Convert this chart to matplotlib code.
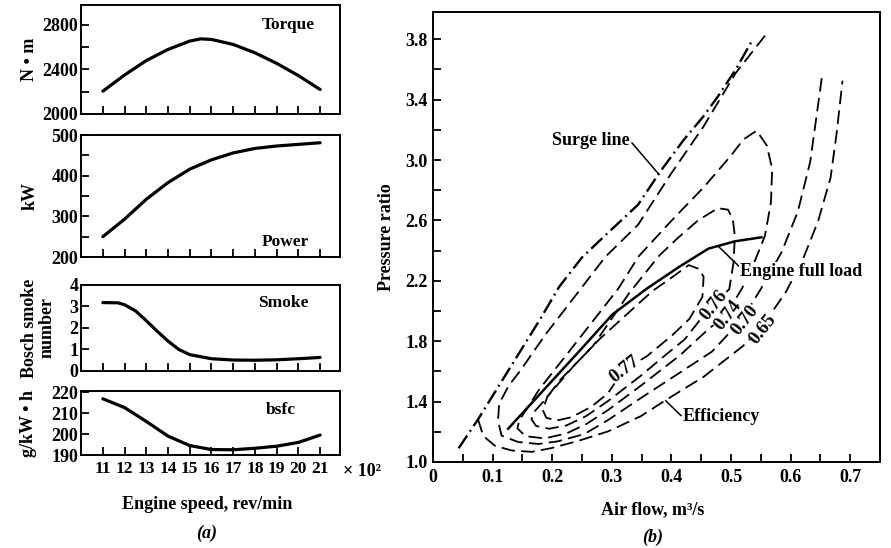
import matplotlib
matplotlib.use("Agg")
import matplotlib.pyplot as plt
from matplotlib.ticker import FixedLocator, MultipleLocator, FuncFormatter

plt.rcParams['font.family'] = ['Liberation Serif', 'DejaVu Serif']
plt.rcParams['font.weight'] = 'bold'

FS = 13

# ---------------- (a) engine performance data ----------------
speed_ticks = [11, 12, 13, 14, 15, 16, 17, 18, 19, 20, 21]

torque_speed = [11, 12, 13, 14, 15, 15.5, 16, 17, 18, 19, 20, 21]
torque_nm = [2205, 2350, 2480, 2580, 2655, 2675, 2670, 2625, 2550, 2455, 2345, 2220]

power_speed = [11, 12, 13, 14, 15, 16, 17, 18, 19, 20, 21]
power_kw = [250, 293, 342, 383, 416, 439, 456, 467, 473, 477, 481]

smoke_speed = [11, 11.7, 12, 12.5, 13, 13.5, 14, 14.5, 15, 16, 17, 18, 19, 20, 21]
smoke_bosch = [3.18, 3.17, 3.08, 2.8, 2.34, 1.85, 1.39, 1.0, 0.76, 0.57, 0.51, 0.5, 0.52, 0.57, 0.63]

bsfc_speed = [11, 12, 13, 14, 15, 16, 17, 18, 19, 20, 21]
bsfc_g = [216.8, 212.6, 206.0, 199.0, 194.5, 192.6, 192.5, 193.2, 194.2, 196.0, 199.5]

# ---------------- (b) compressor map data ----------------
surge_flow = [0.043, 0.0755, 0.179, 0.212, 0.250, 0.289, 0.344, 0.382, 0.420, 0.453, 0.478, 0.508, 0.535]
surge_pr = [1.091, 1.282, 1.941, 2.162, 2.355, 2.501, 2.704, 2.928, 3.130, 3.286, 3.421, 3.600, 3.789]

full_load_flow = [0.126, 0.189, 0.247, 0.301, 0.358, 0.412, 0.462, 0.507, 0.551]
full_load_pr = [1.220, 1.491, 1.741, 1.977, 2.146, 2.290, 2.413, 2.462, 2.488]

eff065_flow = [0.0755, 0.0843, 0.104, 0.132, 0.166, 0.199, 0.244, 0.294, 0.349, 0.393, 0.454,
               0.520, 0.551, 0.592, 0.619, 0.646, 0.667, 0.677, 0.687]
eff065_pr = [1.282, 1.172, 1.107, 1.076, 1.067, 1.092, 1.140, 1.203, 1.304, 1.416, 1.564,
             1.768, 1.891, 2.126, 2.327, 2.594, 2.883, 3.171, 3.525]

eff070_flow = [0.557, 0.508, 0.4535, 0.399, 0.344, 0.289, 0.191, 0.168, 0.147, 0.127, 0.111,
               0.109, 0.115, 0.143, 0.177, 0.210, 0.254, 0.293, 0.349, 0.415, 0.468, 0.519,
               0.550, 0.585, 0.612, 0.633, 0.643, 0.653]
eff070_pr = [3.824, 3.577, 3.220, 2.907, 2.571, 2.358, 1.856, 1.728, 1.607, 1.506, 1.386,
             1.273, 1.174, 1.132, 1.119, 1.137, 1.185, 1.276, 1.424, 1.594, 1.731, 1.947,
             2.146, 2.391, 2.658, 2.991, 3.279, 3.566]

eff074_flow = [0.492, 0.519, 0.538, 0.557, 0.567, 0.569, 0.560, 0.543, 0.521, 0.499, 0.455,
               0.400, 0.345, 0.311, 0.2355, 0.207, 0.1775, 0.158, 0.1447, 0.1416, 0.155,
               0.187, 0.224, 0.257, 0.293, 0.348, 0.4145, 0.461, 0.492]
eff074_pr = [1.976, 2.154, 2.312, 2.499, 2.721, 2.942, 3.096, 3.194, 3.137, 3.025, 2.823,
             2.598, 2.362, 2.149, 1.768, 1.625, 1.477, 1.356, 1.276, 1.2225, 1.171,
             1.156, 1.189, 1.251, 1.342, 1.503, 1.707, 1.876, 1.976]

eff076_flow = [0.467, 0.497, 0.504, 0.5065, 0.503, 0.495, 0.478, 0.445, 0.412, 0.379, 0.329,
               0.2685, 0.214, 0.188, 0.171, 0.165, 0.173, 0.195, 0.224, 0.257, 0.293,
               0.348, 0.389, 0.4225, 0.444, 0.467]
eff076_pr = [2.040, 2.144, 2.316, 2.495, 2.606, 2.671, 2.681, 2.601, 2.488, 2.365, 2.118,
             1.769, 1.546, 1.412, 1.338, 1.284, 1.238, 1.220, 1.242, 1.304, 1.402,
             1.569, 1.705, 1.813, 1.921, 2.040]

eff077_flow = [0.320, 0.359, 0.401, 0.430, 0.452, 0.454, 0.446, 0.429, 0.401, 0.368, 0.324,
               0.280, 0.236, 0.192, 0.184, 0.190, 0.207, 0.232, 0.265, 0.293, 0.320]
eff077_pr = [1.609, 1.701, 1.838, 1.947, 2.094, 2.227, 2.279, 2.304, 2.223, 2.132, 1.974,
             1.816, 1.636, 1.434, 1.345, 1.293, 1.274, 1.296, 1.364, 1.453, 1.609]

eff_labels = ['0.77', '0.76', '0.74', '0.70', '0.65']
eff_label_flow = [0.322, 0.471, 0.495, 0.523, 0.554]
eff_label_pr = [1.612, 2.040, 1.970, 1.938, 1.882]
eff_label_rot = [38, 52, 52, 52, 52]

# leader lines (start, end) and callout texts
surge_leader_flow = [0.334, 0.379]
surge_leader_pr = [3.112, 2.905]
load_leader_flow = [0.479, 0.516]
load_leader_pr = [2.427, 2.286]
eff_leader_flow = [0.3905, 0.416]
eff_leader_pr = [1.405, 1.3075]

flow_ticks = [0, 0.1, 0.2, 0.3, 0.4, 0.5, 0.6, 0.7]
pr_ticks = [1.0, 1.4, 1.8, 2.2, 2.6, 3.0, 3.4, 3.8]

# ---------------- figure ----------------
fig = plt.figure(figsize=(8.91, 5.48), dpi=100)
LW_SP = 1.4


def style(ax):
    for s in ax.spines.values():
        s.set_linewidth(LW_SP)
    ax.tick_params(which='both', direction='in', width=1.3, length=6,
                   top=False, right=False, labelsize=FS)


L, W = 0.091, 0.2907
ax_t = fig.add_axes([L, 0.792, W, 0.199])
ax_p = fig.add_axes([L, 0.531, W, 0.2226])
ax_s = fig.add_axes([L, 0.323, W, 0.157])
ax_b = fig.add_axes([L, 0.1697, W, 0.1168])

panels = [
    (ax_t, torque_speed, torque_nm, (2000, 2980), [2000, 2400, 2800], [2200, 2600], 'N • m', -0.165, 'Torque', 0.80, 0.82),
    (ax_p, power_speed, power_kw, (200, 500), [200, 300, 400, 500], [250, 350, 450], 'kW', -0.165, 'Power', 0.79, 0.12),
    (ax_s, smoke_speed, smoke_bosch, (0, 4), [0, 1, 2, 3, 4], [], 'Bosch smoke\nnumber', -0.10, 'Smoke', 0.78, 0.79),
    (ax_b, bsfc_speed, bsfc_g, (190, 220.5), [190, 200, 210, 220], [], 'g/kW • h', -0.170, 'bsfc', 0.77, 0.70),
]
for ax, xs, ys, yl, yt, ym, ylab, ylx, name, tx, ty in panels:
    style(ax)
    ax.plot(xs, ys, color='black', lw=2.3, solid_capstyle='round')
    ax.set_xlim(10.0, 21.92)
    ax.set_ylim(*yl)
    ax.xaxis.set_major_locator(FixedLocator(speed_ticks))
    ax.yaxis.set_major_locator(FixedLocator(yt))
    ax.yaxis.set_minor_locator(FixedLocator(ym))
    ax.tick_params(axis='y', pad=2)
    ax.tick_params(axis='x', pad=4)
    ax.set_ylabel(ylab, fontsize=FS, fontweight='bold', linespacing=1.0)
    ax.yaxis.set_label_coords(ylx, 0.5)
    ax.text(tx, ty, name, transform=ax.transAxes, ha='center', va='center',
            fontsize=12.5, fontweight='bold')
    if ax is not ax_b:
        ax.tick_params(axis='x', labelbottom=False)

ax_b.tick_params(axis='x', labelsize=12.5)
ax_b.text(1.01, -0.25, '× 10²', transform=ax_b.transAxes, ha='left', va='center',
          fontsize=FS, fontweight='bold')
fig.text(0.232, 0.0785, 'Engine speed, rev/min', ha='center', va='center', fontsize=FS, fontweight='bold')
fig.text(0.232, 0.027, '(a)', ha='center', va='center', fontsize=FS, fontstyle='italic', fontweight='bold')

# ---------------- (b) ----------------
ax = fig.add_axes([0.486, 0.157, 0.5017, 0.821])
style(ax)
ax.set_xlim(0, 0.75)
ax.set_ylim(1.0, 3.98)
ax.xaxis.set_major_locator(FixedLocator(flow_ticks))
ax.xaxis.set_minor_locator(MultipleLocator(0.05))
ax.yaxis.set_major_locator(FixedLocator(pr_ticks))
ax.yaxis.set_minor_locator(MultipleLocator(0.2))
ax.xaxis.set_major_formatter(FuncFormatter(lambda v, p: '0' if abs(v) < 1e-9 else f'{v:.1f}'))
ax.yaxis.set_major_formatter(FuncFormatter(lambda v, p: f'{v:.1f}'))
ax.tick_params(axis='x', pad=5)
ax.tick_params(axis='y', pad=4)
ax.set_ylabel('Pressure ratio', fontsize=FS, fontweight='bold')
ax.yaxis.set_label_coords(-0.085, 0.5)

dash_kw = dict(color='black', lw=1.3, dashes=(7.5, 3.5))
for fx, py in [(eff065_flow, eff065_pr), (eff070_flow, eff070_pr), (eff074_flow, eff074_pr),
               (eff076_flow, eff076_pr), (eff077_flow, eff077_pr)]:
    ax.plot(fx, py, **dash_kw)

ax.plot(surge_flow, surge_pr, color='black', lw=1.7, dashes=(6.5, 2, 0.8, 2))
ax.plot(full_load_flow, full_load_pr, color='black', lw=1.8)

for lab, fx, py, rot in zip(eff_labels, eff_label_flow, eff_label_pr, eff_label_rot):
    ax.text(fx, py, lab, rotation=rot, ha='center', va='center', fontsize=13.5, fontweight='bold',
            rotation_mode='anchor',
            bbox=dict(facecolor='white', edgecolor='none', pad=0.1))

ax.plot(surge_leader_flow, surge_leader_pr, color='black', lw=1.1)
ax.plot(load_leader_flow, load_leader_pr, color='black', lw=1.1)
ax.plot(eff_leader_flow, eff_leader_pr, color='black', lw=1.1)
ax.text(0.330, 3.128, 'Surge line', ha='right', va='center', fontsize=FS, fontweight='bold')
ax.text(0.515, 2.262, 'Engine full load', ha='left', va='center', fontsize=FS, fontweight='bold',
        bbox=dict(facecolor='white', edgecolor='none', pad=0.5))
ax.text(0.418, 1.300, 'Efficiency', ha='left', va='center', fontsize=FS, fontweight='bold')

fig.text(0.733, 0.069, 'Air flow, m³/s', ha='center', va='center', fontsize=FS, fontweight='bold')
fig.text(0.732, 0.020, '(b)', ha='center', va='center', fontsize=FS, fontstyle='italic', fontweight='bold')

fig.savefig('out.png', dpi=100)
